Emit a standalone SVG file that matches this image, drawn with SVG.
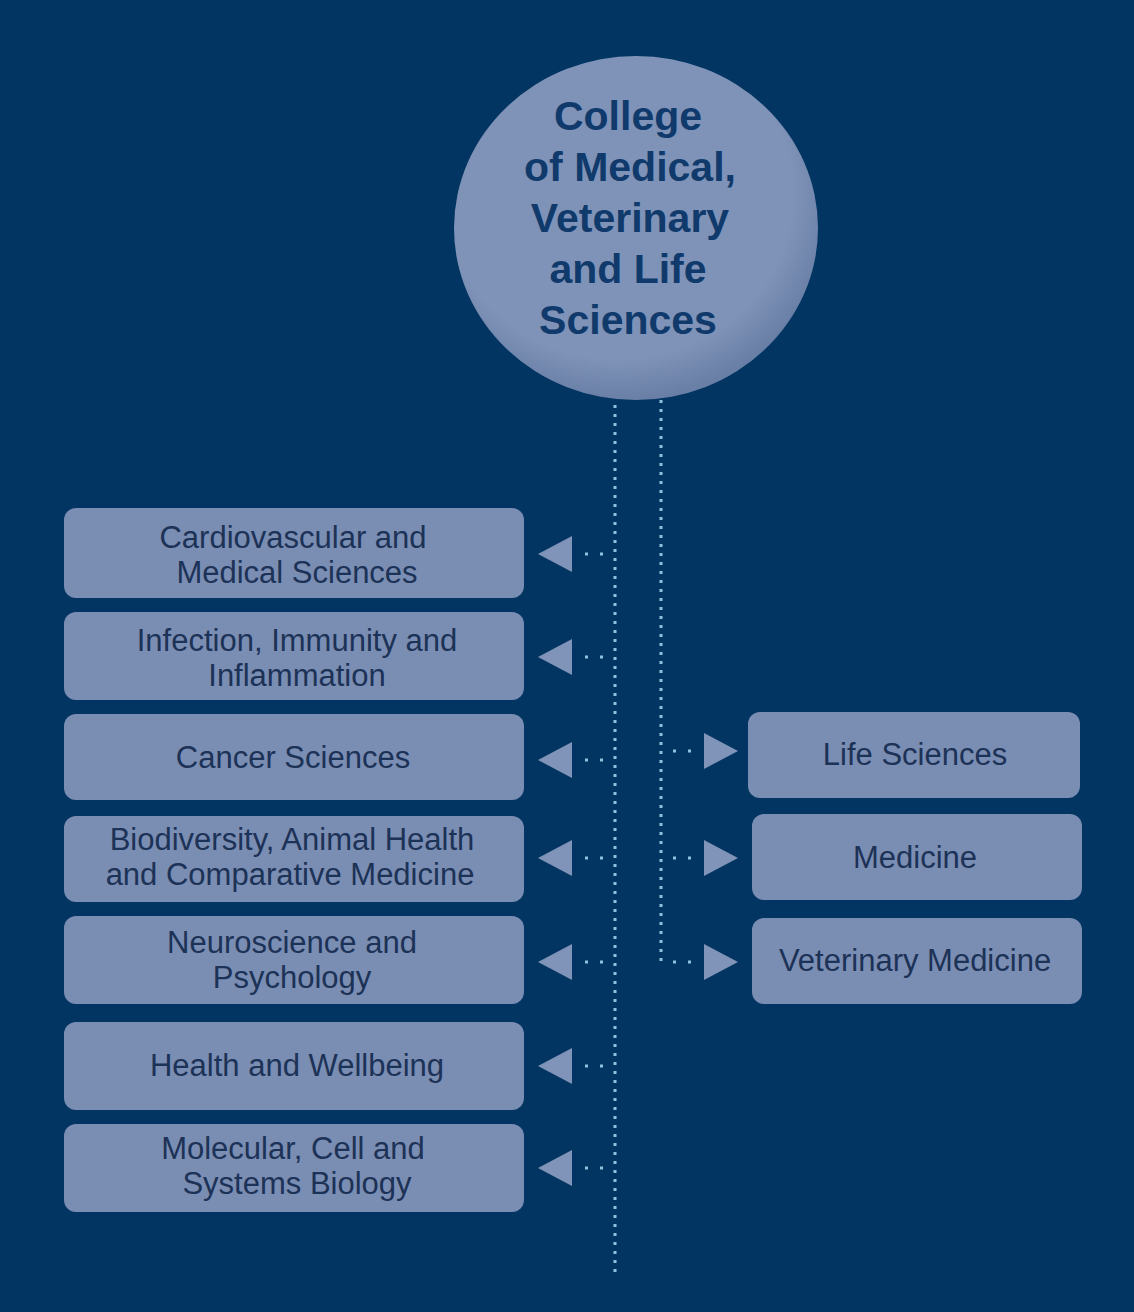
<svg xmlns="http://www.w3.org/2000/svg" width="1134" height="1312" viewBox="0 0 1134 1312">
<defs>
<radialGradient id="g" cx="0.45" cy="0.4" r="0.6"><stop offset="0.8" stop-color="#7f93b8"/><stop offset="1" stop-color="#6a7fa6"/></radialGradient>
</defs>
<style>
.b{fill:#7a8db3}
.t{font-family:"Liberation Sans",Arial,sans-serif;font-size:31px;fill:#1c3256;text-anchor:middle}
.h{font-family:"Liberation Sans",Arial,sans-serif;font-size:41px;font-weight:bold;fill:#0f3a6b;text-anchor:middle}
.d{stroke:#8fc3dd;stroke-width:3;stroke-dasharray:3 6;fill:none}
.a{fill:#8093b8}
</style>
<rect width="1134" height="1312" fill="#023561"/>
<g id="connectors">
<line class="d" x1="615" y1="405" x2="615" y2="1278"/>
<line class="d" x1="661" y1="400" x2="661" y2="962"/>
<g class="d" style="stroke-dasharray:3 12">
<line x1="585" y1="554" x2="612" y2="554"/><line x1="585" y1="657" x2="612" y2="657"/><line x1="585" y1="760" x2="612" y2="760"/><line x1="585" y1="858" x2="612" y2="858"/><line x1="585" y1="962" x2="612" y2="962"/><line x1="585" y1="1066" x2="612" y2="1066"/><line x1="585" y1="1168" x2="612" y2="1168"/>
<line x1="673" y1="751" x2="700" y2="751"/><line x1="673" y1="858" x2="700" y2="858"/><line x1="673" y1="962" x2="700" y2="962"/>
</g>
<g class="a">
<polygon points="538,554 572,536 572,572"/><polygon points="538,657 572,639 572,675"/><polygon points="538,760 572,742 572,778"/><polygon points="538,858 572,840 572,876"/><polygon points="538,962 572,944 572,980"/><polygon points="538,1066 572,1048 572,1084"/><polygon points="538,1168 572,1150 572,1186"/>
<polygon points="738,751 704,733 704,769"/><polygon points="738,858 704,840 704,876"/><polygon points="738,962 704,944 704,980"/>
</g>
</g>
<g id="college"><ellipse cx="636" cy="228" rx="182" ry="172" fill="url(#g)"/>
<text class="h" x="628" y="130">College</text><text class="h" x="630" y="181">of Medical,</text><text class="h" x="630" y="232">Veterinary</text><text class="h" x="628" y="283">and Life</text><text class="h" x="628" y="334">Sciences</text></g>
<g id="cms"><rect class="b" x="64" y="508" width="460" height="90" rx="12"/><text class="t" x="293" y="548">Cardiovascular and</text><text class="t" x="297" y="583">Medical Sciences</text></g>
<g id="iii"><rect class="b" x="64" y="612" width="460" height="88" rx="12"/><text class="t" x="297" y="651">Infection, Immunity and</text><text class="t" x="297" y="686">Inflammation</text></g>
<g id="cs"><rect class="b" x="64" y="714" width="460" height="86" rx="12"/><text class="t" x="293" y="768">Cancer Sciences</text></g>
<g id="bahcm"><rect class="b" x="64" y="816" width="460" height="86" rx="12"/><text class="t" x="292" y="850">Biodiversity, Animal Health</text><text class="t" x="290" y="885">and Comparative Medicine</text></g>
<g id="np"><rect class="b" x="64" y="916" width="460" height="88" rx="12"/><text class="t" x="292" y="953">Neuroscience and</text><text class="t" x="292" y="988">Psychology</text></g>
<g id="hw"><rect class="b" x="64" y="1022" width="460" height="88" rx="12"/><text class="t" x="297" y="1076">Health and Wellbeing</text></g>
<g id="mcsb"><rect class="b" x="64" y="1124" width="460" height="88" rx="12"/><text class="t" x="293" y="1159">Molecular, Cell and</text><text class="t" x="297" y="1194">Systems Biology</text></g>
<g id="ls"><rect class="b" x="748" y="712" width="332" height="86" rx="12"/><text class="t" x="915" y="765">Life Sciences</text></g>
<g id="med"><rect class="b" x="752" y="814" width="330" height="86" rx="12"/><text class="t" x="915" y="868">Medicine</text></g>
<g id="vm"><rect class="b" x="752" y="918" width="330" height="86" rx="12"/><text class="t" x="915" y="971">Veterinary Medicine</text></g>
</svg>
